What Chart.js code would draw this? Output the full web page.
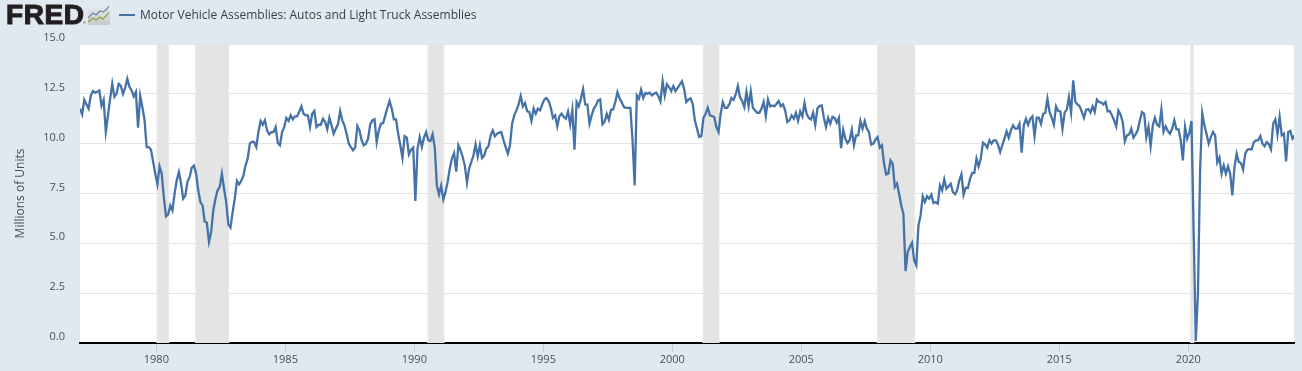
<!DOCTYPE html>
<html>
<head>
<meta charset="utf-8">
<title>Motor Vehicle Assemblies</title>
<script src="https://cdn.jsdelivr.net/npm/chart.js@4"></script>
<style>
    html, body { margin: 0; padding: 0; background: #e1e9f0; }
    #wrap { position: relative; width: 1302px; height: 371px; overflow: hidden; }
    canvas { position: absolute; left: 0; top: 0; }
    #logo {
        position: absolute; left: 6px; top: 0;
        font: bold 28px/30px "Liberation Sans", Arial, sans-serif;
        letter-spacing: 0.6px; color: #231f20; -webkit-text-stroke: 1.1px #231f20;
    }
    #reg { position: absolute; left: 83px; top: 21px; font: 4px/4px "Liberation Sans", Arial, sans-serif; color: #231f20; }
    #icon { position: absolute; left: 88px; top: 5px; }
    #swatch { position: absolute; left: 119px; top: 14px; width: 16px; height: 2px; background: #4572a7; }
    #legend {
        position: absolute; left: 140px; top: 6px;
        font: 12px/18px "Open Sans", sans-serif; color: #333f4c; white-space: nowrap;
    }
</style>
</head>
<body>
<div id="wrap">
    <canvas id="chart" width="1302" height="371"></canvas>
    <div id="logo">FRED</div>
    <div id="reg">®</div>
    <svg id="icon" width="22" height="20" viewBox="0 0 22 20">
        <defs>
            <linearGradient id="iconBg" x1="0" y1="0" x2="0" y2="1">
                <stop offset="0" stop-color="#e8ecef"/>
                <stop offset="1" stop-color="#c8c9c9"/>
            </linearGradient>
        </defs>
        <rect width="22" height="20" rx="2" fill="url(#iconBg)"/>
        <polyline points="0,13 5,8 8,10 12,6 15,7 18,5 21,1" fill="none" stroke="#5f84a8" stroke-width="1.1"/>
        <polyline points="0,17 5,13 8,15 12,12 15,14 18,11 21,7" fill="none" stroke="#7f9f3f" stroke-width="1.1"/>
    </svg>
    <div id="swatch"></div>
    <div id="legend"></div>
</div>
<script>
const seriesName = 'Motor Vehicle Assemblies: Autos and Light Truck Assemblies';
const yTitle = 'Millions of Units';
// January 1977, the points sit a touch after the year ticks
const startYear = 1977.04;
const xTicks = [1980, 1985, 1990, 1995, 2000, 2005, 2010, 2015, 2020];

// recessions, decimal years
const recessionStart = [1980.0, 1981.5, 1990.5, 2001.17, 2007.92, 2020.07];
const recessionEnd = [1980.5, 1982.83, 1991.17, 2001.83, 2009.42, 2020.22];

// monthly values, one row per year
const assemblies = [
    11.76, 11.47, 12.2, 11.97, 11.76, 12.4, 12.64, 12.56, 12.6, 12.67, 11.9, 12.2,
    10.6, 11.4, 12.25, 13.0, 12.35, 12.5, 13.0, 12.9, 12.5, 12.8, 13.26, 12.85,
    12.67, 12.37, 12.6, 10.8, 12.4, 11.84, 11.2, 9.83, 9.83, 9.7, 9.1, 8.5,
    7.96, 8.86, 8.5, 7.3, 6.35, 6.45, 6.9, 6.65, 7.5, 8.16, 8.58, 8.0,
    7.24, 7.4, 8.1, 8.33, 8.8, 8.9, 8.5, 7.66, 7.07, 6.9, 6.1, 6.04,
    5.07, 5.57, 6.65, 7.24, 7.66, 7.83, 8.5, 7.74, 7.07, 5.94, 5.79, 6.57,
    7.24, 8.13, 7.96, 8.13, 8.4, 8.9, 9.25, 10.0, 10.1, 10.08, 9.83, 10.6,
    11.14, 10.95, 11.17, 10.67, 10.47, 10.58, 10.58, 10.84, 10.03, 9.92, 10.58, 10.84,
    11.29, 11.14, 11.42, 11.22, 11.37, 11.37, 11.6, 11.87, 11.5, 11.42, 11.42, 10.84,
    11.5, 11.64, 10.84, 10.95, 10.95, 11.25, 11.09, 10.72, 11.3, 10.92, 10.5, 10.75,
    10.97, 11.64, 11.17, 10.92, 10.5, 10.0, 9.83, 9.67, 9.8, 10.89, 10.67, 10.17,
    9.92, 10.0, 10.25, 10.97, 11.17, 11.22, 10.08, 10.67, 11.0, 11.03, 11.42, 11.8,
    12.14, 11.76, 11.22, 11.22, 10.5, 9.92, 9.28, 10.38, 10.3, 9.46, 9.7, 9.8,
    7.12, 9.75, 10.33, 9.83, 10.3, 10.58, 10.17, 10.13, 10.47, 9.83, 7.9, 7.46,
    7.9, 7.2, 7.57, 8.08, 8.75, 9.25, 9.53, 8.6, 9.92, 9.67, 9.33, 8.9,
    8.04, 8.75, 9.08, 9.4, 9.97, 9.36, 9.92, 9.28, 9.4, 9.75, 9.87, 10.42,
    10.67, 10.37, 10.5, 10.55, 10.58, 10.17, 9.83, 9.5, 9.92, 11.0, 11.42, 11.67,
    11.97, 12.4, 11.87, 12.04, 11.62, 11.59, 11.14, 11.76, 11.5, 11.76, 11.67, 11.97,
    12.22, 12.29, 12.14, 11.8, 11.29, 11.42, 10.87, 11.37, 11.5, 11.34, 11.25, 11.62,
    10.97, 11.7, 9.7, 12.09, 11.87, 12.26, 12.74, 11.97, 11.96, 11.0, 11.42, 11.76,
    11.92, 12.17, 12.22, 10.97, 11.09, 11.5, 11.2, 11.7, 11.72, 12.09, 12.59, 12.26,
    12.06, 11.84, 11.8, 11.8, 11.8, 10.17, 7.91, 12.42, 12.26, 12.71, 12.29, 12.54,
    12.5, 12.56, 12.42, 12.5, 12.56, 12.39, 12.12, 13.13, 12.42, 12.98, 12.84, 12.64,
    12.89, 12.64, 12.8, 12.96, 13.13, 12.76, 12.09, 12.22, 12.27, 12.0, 11.17, 10.75,
    10.33, 10.37, 11.29, 11.5, 11.8, 11.42, 11.39, 11.34, 10.84, 10.58, 11.5, 12.09,
    11.8, 11.8, 11.97, 12.29, 12.2, 12.47, 12.89, 12.34, 12.14, 11.84, 12.59, 11.87,
    12.63, 11.8, 11.67, 11.55, 11.55, 11.76, 12.09, 11.39, 12.22, 11.87, 11.92, 11.87,
    12.0, 12.14, 11.87, 11.97, 11.67, 11.09, 11.17, 11.42, 11.25, 11.55, 11.14, 11.62,
    11.37, 12.04, 11.5, 11.29, 11.22, 11.55, 10.95, 11.76, 11.89, 11.92, 11.3, 10.84,
    11.3, 11.0, 11.34, 11.29, 11.05, 11.3, 9.78, 10.7, 10.25, 10.03, 10.17, 10.7,
    9.92, 10.42, 10.42, 11.14, 10.75, 11.14, 10.75, 10.58, 9.95, 10.0, 10.2, 10.33,
    9.8, 9.92, 9.0, 8.46, 8.5, 9.16, 9.0, 7.83, 8.0, 7.49, 6.9, 6.49,
    3.61, 4.57, 4.82, 5.03, 4.15, 3.9, 5.9, 6.4, 7.36, 7.07, 7.36, 7.24,
    7.44, 7.02, 7.07, 6.99, 7.91, 7.66, 8.21, 7.74, 7.86, 7.99, 7.58, 7.46,
    7.66, 8.16, 8.46, 7.44, 7.79, 7.78, 8.24, 8.53, 8.53, 9.25, 8.86, 9.25,
    10.05, 9.97, 9.8, 10.17, 10.0, 10.17, 10.17, 9.95, 9.58, 9.92, 10.25, 10.62,
    10.3, 10.67, 10.92, 10.75, 10.75, 11.0, 9.55, 10.92, 11.25, 10.95, 11.25, 11.37,
    10.38, 11.3, 11.3, 11.0, 11.5, 11.54, 12.26, 11.59, 11.3, 10.95, 11.87, 11.64,
    11.62, 10.75, 11.56, 11.71, 12.34, 11.56, 13.18, 12.09, 11.97, 11.87, 11.59, 11.29,
    11.71, 11.74, 11.56, 11.87, 11.59, 12.21, 12.09, 12.06, 11.97, 12.09, 11.62, 11.64,
    11.42, 11.17, 10.87, 11.67, 11.47, 11.09, 10.12, 10.42, 10.47, 10.75, 10.3, 10.47,
    10.67, 11.17, 11.59, 11.5, 10.33, 10.84, 9.88, 10.92, 11.3, 10.95, 10.87, 11.72,
    10.59, 10.87, 10.64, 10.5, 10.75, 11.17, 10.72, 10.72, 10.17, 9.16, 10.84, 10.25,
    10.54, 11.14, 5.65, 0.1, 2.47, 8.66, 11.54, 10.92, 10.5, 10.0, 10.33, 10.59,
    10.42, 9.05, 9.3, 8.49, 8.91, 8.49, 8.86, 8.49, 7.41, 8.83, 9.5, 9.08,
    9.03, 8.7, 9.5, 9.7, 9.73, 9.72, 10.08, 10.17, 10.17, 10.38, 10.0, 9.87,
    10.08, 9.97, 9.72, 11.0, 11.22, 10.47, 11.34, 10.42, 10.5, 9.11, 10.59, 10.64,
    10.25, 10.42
];

const points = assemblies.map((v, i) => ({ x: startYear + i / 12, y: v }));

document.getElementById('legend').textContent = seriesName;

// white plot background and the grey recession bars
const bandsPlugin = {
    id: 'bands',
    beforeDraw(chart) {
        const a = chart.chartArea;
        chart.ctx.fillStyle = '#ffffff';
        chart.ctx.fillRect(a.left, a.top, a.width, a.height);
    },
    beforeDatasetsDraw(chart) {
        const ctx = chart.ctx;
        const a = chart.chartArea;
        const x = chart.scales.x;
        ctx.save();
        recessionStart.forEach((s, i) => {
            const x0 = x.getPixelForValue(s);
            const x1 = x.getPixelForValue(recessionEnd[i]);
            ctx.fillStyle = '#eeeeee';
            ctx.fillRect(x0, a.top, x1 - x0, a.height);
            ctx.fillStyle = '#e4e4e4';
            ctx.fillRect(x0 + 1, a.top, x1 - x0 - 2, a.height);
        });
        ctx.restore();
    }
};

new Chart(document.getElementById('chart').getContext('2d'), {
    type: 'line',
    data: {
        datasets: [{
            label: seriesName,
            data: points,
            borderColor: '#4572a7',
            borderWidth: 2.3,
            pointRadius: 0,
            tension: 0
        }]
    },
    options: {
        responsive: false,
        animation: false,
        devicePixelRatio: 1,
        layout: { padding: { top: 44, right: 8, left: 0, bottom: 0 } },
        plugins: {
            legend: { display: false },
            tooltip: { enabled: false }
        },
        scales: {
            x: {
                type: 'linear',
                min: 1977.04,
                max: 2024.097,
                afterBuildTicks: scale => { scale.ticks = xTicks.map(v => ({ value: v })); },
                afterFit: scale => { scale.height = 28; },
                border: { color: '#000000', width: 2 },
                grid: { drawOnChartArea: false, drawTicks: true, tickLength: 9, tickColor: '#c0d0e0' },
                ticks: {
                    autoSkip: false,
                    maxRotation: 0,
                    padding: 1,
                    color: '#4d4d4d',
                    font: { family: '"Open Sans"', size: 11 },
                    callback: v => String(v)
                }
            },
            y: {
                min: 0,
                max: 15,
                afterFit: scale => { scale.width = 80; },
                border: { display: false },
                grid: { color: '#e3e3e3', drawTicks: false },
                title: {
                    display: true,
                    text: yTitle,
                    color: '#4d4d4d',
                    font: { family: '"Open Sans"', size: 12 },
                    padding: { top: 13, bottom: 0 }
                },
                ticks: {
                    stepSize: 2.5,
                    padding: 15,
                    labelOffset: -6,
                    color: '#4d4d4d',
                    font: { family: '"Open Sans"', size: 11 },
                    callback: v => v.toFixed(1)
                }
            }
        }
    },
    plugins: [bandsPlugin]
});
</script>
</body>
</html>
